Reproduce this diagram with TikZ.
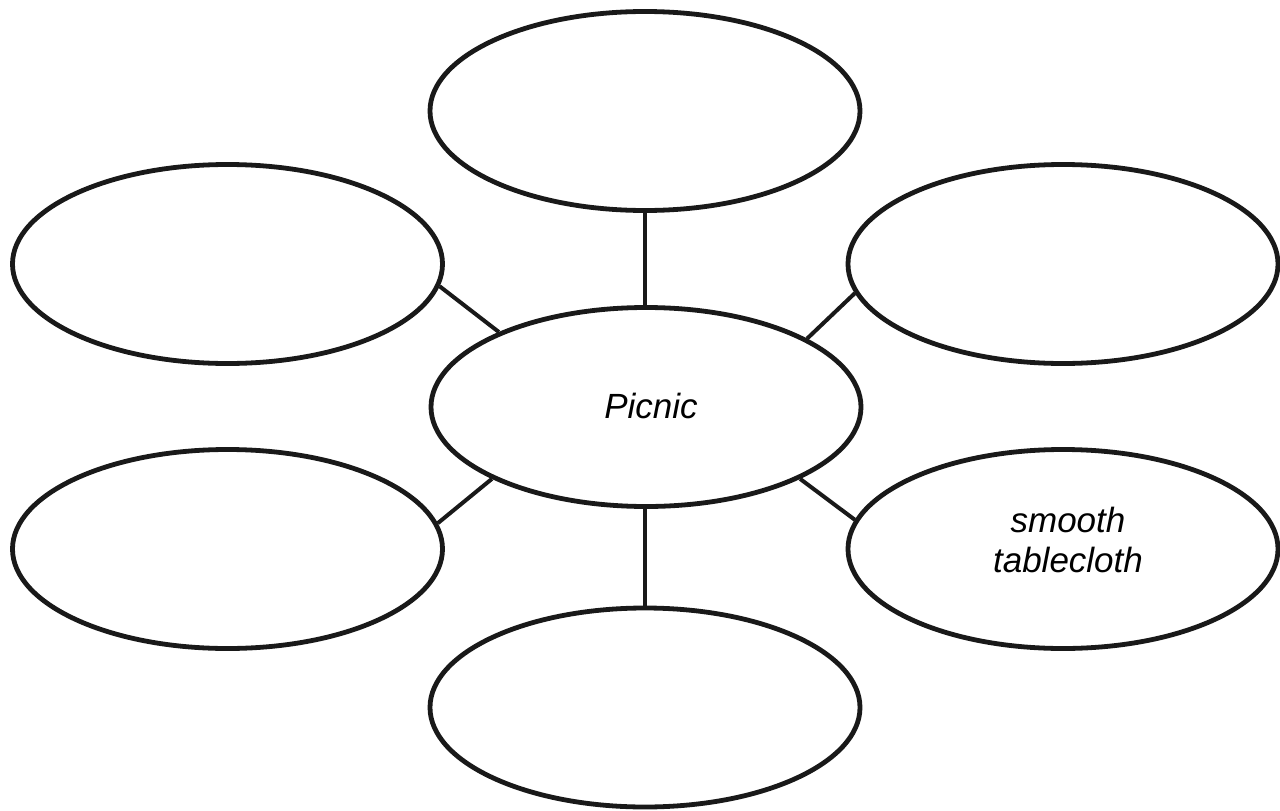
\documentclass[tikz,border=0pt]{standalone}
\usepackage{fontspec}
\setmainfont{Liberation Sans}
\usetikzlibrary{shapes.geometric}
\tikzset{
  bubble/.style={ellipse, draw=black!90, line width=4.8pt, minimum width=430pt, minimum height=199pt, inner sep=0pt},
  link/.style={draw=black!90, line width=4pt},
  lbl/.style={inner sep=0pt, font=\fontsize{35}{40}\selectfont\itshape, align=center}
}
\begin{document}
\begin{tikzpicture}[x=1pt,y=-1pt]
\useasboundingbox[fill=white] (0,0) rectangle (1280,811);
\node[bubble] (T)  at (645,111) {};
\node[bubble] (LT) at (227.5,264) {};
\node[bubble] (RT) at (1063,264) {};
\node[bubble] (C)  at (646,407) {};
\node[bubble] (LB) at (227.5,549) {};
\node[bubble] (RB) at (1063,549) {};
\node[bubble] (B)  at (645,707.5) {};
\node[lbl, anchor=base] (picnic) at (651,418) {Picnic};
\node[lbl] (cloth) at (1068,540) {smooth\\tablecloth};
\draw[link] (T.south) -- (T.south |- C.north);
\draw[link] (B.north |- C.south) -- (B.north);
\draw[link] (LT.-6) -- (C.153);
\draw[link] (RT.188) -- (C.23);
\draw[link] (LB.7) -- (C.205.5);
\draw[link] (RB.172) -- (C.-25);
\end{tikzpicture}
\end{document}
